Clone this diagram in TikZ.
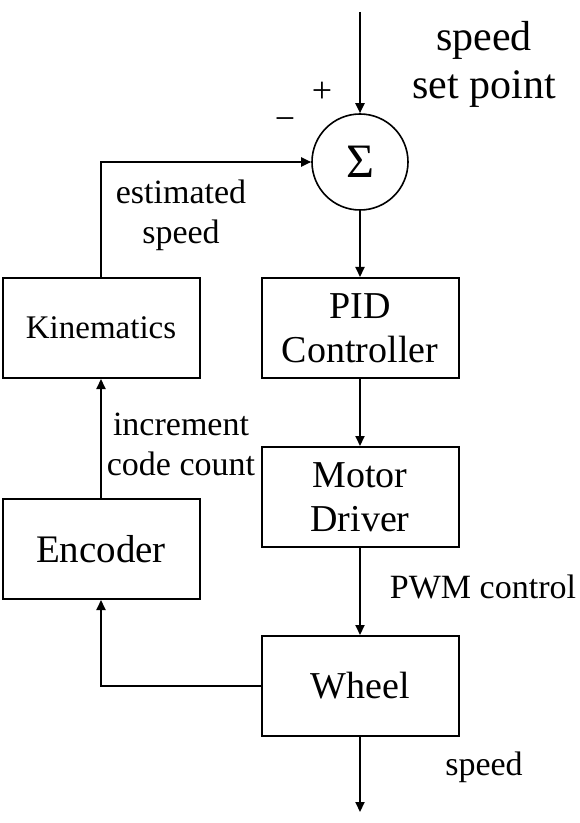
\documentclass[tikz,border=0pt]{standalone}
\usepackage{fontspec}
\setmainfont{Liberation Serif}
\usetikzlibrary{arrows.meta}

\begin{document}
\begin{tikzpicture}[
    x=0.5pt, y=-0.5pt,
    box/.style={rectangle, draw, line width=1pt, minimum height=50pt, minimum width=98.5pt, align=center, inner sep=2pt, font=\fontsize{19}{22}\selectfont},
    sumnode/.style={circle, draw, line width=0.8pt, minimum size=48pt, inner sep=0pt},
    lbl/.style={align=center, font=\fontsize{17}{20}\selectfont},
    arrow/.style={-{Triangle[length=5pt, width=4.5pt]}, line width=1pt}
]
    \useasboundingbox (0,0) rectangle (579,823);
    % Nodes
    \node[sumnode, font=\fontsize{24}{26}\selectfont] (sum) at (360,162) {Σ};
    \node[box] (pid) at (360,328) {PID\\Controller};
    \node[box] (driver) at (360,497) {Motor\\Driver};
    \node[box] (wheel) at (360,686) {Wheel};
    \node[box, font=\fontsize{16.5}{20}\selectfont] (kin) at (101,328) {Kinematics};
    \node[box, font=\fontsize{19.5}{22}\selectfont] (enc) at (101,549) {Encoder};
    \coordinate (in) at (360,12);
    \coordinate (out) at (360,812);

    % Labels
    \node[lbl, font=\fontsize{21}{24}\selectfont] (setpt) at (484,64) {speed\\set point};
    \node[lbl, font=\fontsize{18}{20}\selectfont] (plus) at (322,92) {+};
    \node[lbl, font=\fontsize{18}{20}\selectfont] (minus) at (285,124) {−};
    \node[lbl] (est) at (181,215) {estimated\\speed};
    \node[lbl] (inc) at (181,444) {increment\\code count};
    \node[lbl] (pwm) at (483,587) {PWM control};
    \node[lbl] (spd) at (484,767) {speed};

    % Arrows
    \draw[arrow] (in) -- (sum);
    \draw[arrow] (sum) -- (pid);
    \draw[arrow] (pid) -- (driver);
    \draw[arrow] (driver) -- (wheel);
    \draw[arrow] (wheel) -- (out);
    \draw[arrow] (wheel.west) -| (enc.south);
    \draw[arrow] (enc) -- (kin);
    \draw[arrow] (kin.north) |- (sum.west);
\end{tikzpicture}
\end{document}
